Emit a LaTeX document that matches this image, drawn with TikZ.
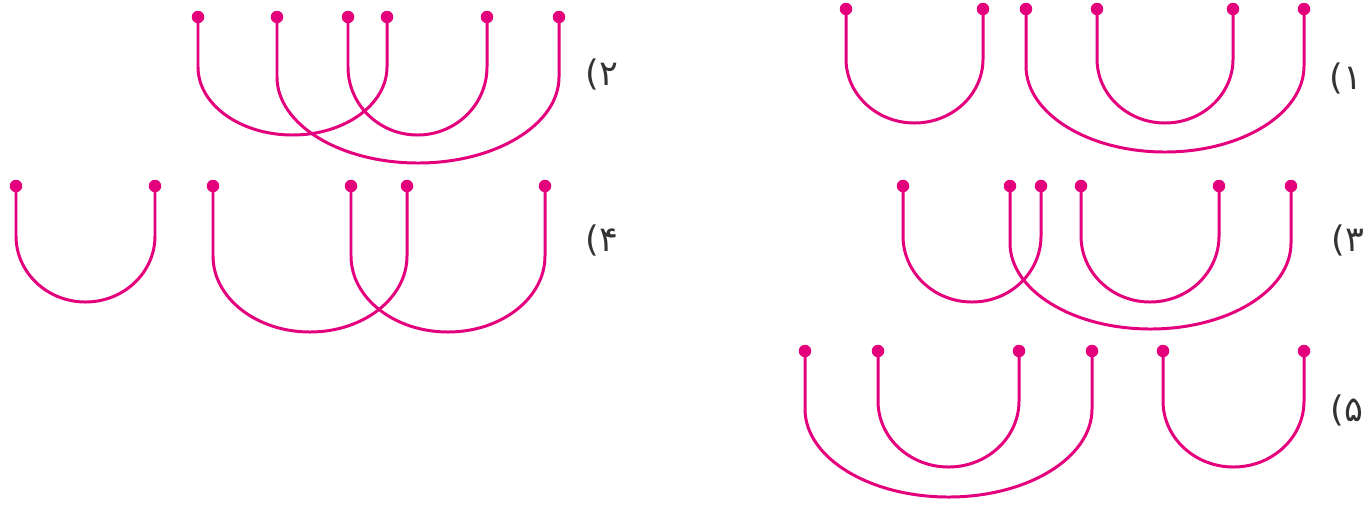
\documentclass[tikz,border=0pt]{standalone}
\usepackage{fontspec}
\newfontfamily\arabicfont[Script=Arabic]{DejaVu Sans}
\TeXXeTstate=1
\definecolor{linkpink}{HTML}{E4007C}
\definecolor{numgray}{HTML}{333333}

% U-shaped link: from node #1 down #3, half ellipse (y radius #4, x radius #5), up to node #2
\newcommand{\uloop}[5]{\draw[wire] (#1.center) -- ++(0,#3) arc[start angle=180, end angle=360, x radius={#5*0.02cm}, y radius={#4*0.02cm}] -- (#2.center);}

\begin{document}
\begin{tikzpicture}[
        x=0.02cm, y=-0.02cm,
        dot/.style={circle, fill=linkpink, inner sep=0pt, minimum size=0.25cm},
        wire/.style={draw=linkpink, line width=1.7pt},
        tag/.style={font=\arabicfont\fontsize{20}{24}\selectfont, text=numgray, inner sep=0pt}
    ]
        \useasboundingbox (0,0) rectangle (1371,505);

        % Panel 1
        \node[dot] (a1) at (846,9) {};
        \node[dot] (a2) at (983,9) {};
        \node[dot] (a3) at (1026,9) {};
        \node[dot] (a4) at (1097,9) {};
        \node[dot] (a5) at (1233,9) {};
        \node[dot] (a6) at (1304,9) {};
        \uloop{a1}{a2}{50}{64}{68.5}
        \uloop{a4}{a5}{50}{64}{68}
        \uloop{a3}{a6}{57}{86}{139}
        \node[tag] (t1) at (1346,78) {\beginR ۱)\endR};

        % Panel 2
        \node[dot] (b1) at (198,17) {};
        \node[dot] (b2) at (277,17) {};
        \node[dot] (b3) at (348,17) {};
        \node[dot] (b4) at (387,17) {};
        \node[dot] (b5) at (487,17) {};
        \node[dot] (b6) at (559,17) {};
        \uloop{b1}{b4}{50}{68}{94.5}
        \uloop{b3}{b5}{50}{68}{69.5}
        \uloop{b2}{b6}{60}{86}{141}
        \node[tag] (t2) at (602,74) {\beginR ۲)\endR};

        % Panel 3
        \node[dot] (c1) at (903,186) {};
        \node[dot] (c2) at (1010,186) {};
        \node[dot] (c3) at (1041,186) {};
        \node[dot] (c4) at (1081,186) {};
        \node[dot] (c5) at (1219,186) {};
        \node[dot] (c6) at (1291,186) {};
        \uloop{c1}{c3}{50}{66}{69}
        \uloop{c4}{c5}{50}{66}{69}
        \uloop{c2}{c6}{57}{86}{140.5}
        \node[tag] (t3) at (1348,240) {\beginR ۳)\endR};

        % Panel 4
        \node[dot] (d1) at (16,186) {};
        \node[dot] (d2) at (155,186) {};
        \node[dot] (d3) at (213,186) {};
        \node[dot] (d4) at (351,186) {};
        \node[dot] (d5) at (407,186) {};
        \node[dot] (d6) at (545,186) {};
        \uloop{d1}{d2}{50}{66}{69.5}
        \uloop{d3}{d5}{70}{76}{97}
        \uloop{d4}{d6}{70}{76}{97}
        \node[tag] (t4) at (602,240) {\beginR ۴)\endR};

        % Panel 5
        \node[dot] (e1) at (805,351) {};
        \node[dot] (e2) at (878,351) {};
        \node[dot] (e3) at (1019,351) {};
        \node[dot] (e4) at (1092,351) {};
        \node[dot] (e5) at (1163,351) {};
        \node[dot] (e6) at (1304,351) {};
        \uloop{e2}{e3}{50}{66}{70.5}
        \uloop{e1}{e4}{58}{88}{143.5}
        \uloop{e5}{e6}{50}{66}{70.5}
        \node[tag] (t5) at (1347,410) {\beginR ۵)\endR};
    \end{tikzpicture}
\end{document}
